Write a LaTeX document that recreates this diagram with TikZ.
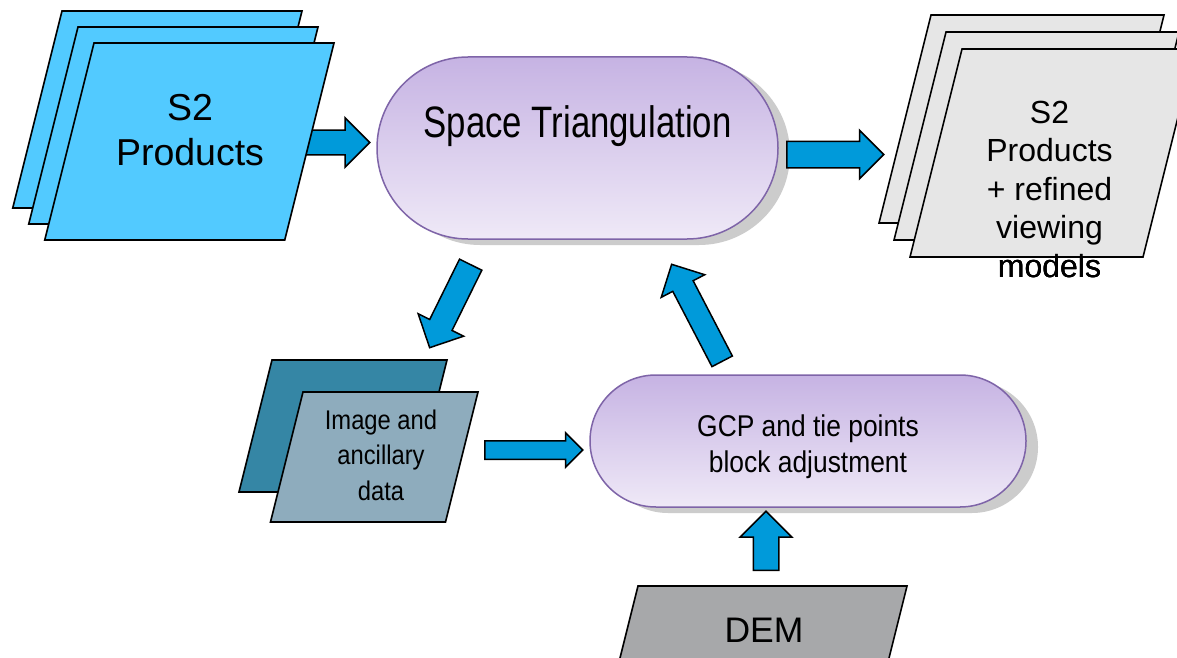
\documentclass[tikz,border=0pt]{standalone}
\usepackage{fontspec}
\setmainfont{Liberation Sans}
\newfontfamily\narrowsf[FakeStretch=0.79]{Liberation Sans}
\newfontfamily\condsf[FakeStretch=0.88]{Liberation Sans}
\usetikzlibrary{shapes.misc,shapes.arrows,shadows}

\definecolor{prodblue}{HTML}{52CAFF}
\definecolor{arrowblue}{HTML}{009ADA}
\definecolor{procborder}{HTML}{7E64A8}
\definecolor{proctop}{HTML}{C6B3E3}
\definecolor{procbottom}{HTML}{EFE9F7}
\definecolor{outgray}{HTML}{E6E6E6}
\definecolor{auxteal}{HTML}{3586A5}
\definecolor{auxgray}{HTML}{8EACBD}
\definecolor{demgray}{HTML}{A7A8AA}

\tikzset{
  process/.style={rounded rectangle,draw=procborder,line width=1.5pt,
    top color=proctop,bottom color=procbottom,inner sep=0pt,
    drop shadow={shadow xshift=12pt,shadow yshift=-6pt,fill=black!20,opacity=1}},
  blockarrow/.style={single arrow,draw=black,line width=1.5pt,fill=arrowblue,
    inner xsep=0pt,single arrow head indent=0pt,anchor=tail},
  sheet/.style={draw=black,line width=1.6pt},
}

% fill, top left x, top left y, width, height
\newcommand\sheet[5]{%
  \draw[sheet,fill=#1] (#2,#3) -- ++(#4,0) -- ++({-0.25*#5},#5) -- ++(-#4,0) -- cycle;}

\begin{document}
\begin{tikzpicture}[x=1pt,y=-1pt]
  \useasboundingbox (0,0) rectangle (1177,658);
  \clip (0,0) rectangle (1177,658);
  \fill[white] (0,0) rectangle (1177,658);

  % input products
  \node[blockarrow,minimum height=69pt,inner ysep=11.5pt,single arrow head extend=12.5pt]
    (arrin) at (300,142.5) {};
  \foreach \dx in {0,16,32}
    \sheet{prodblue}{62+\dx}{11+\dx}{240}{197}
  \node[font=\fontsize{37.5}{45}\selectfont,align=center] (inprod) at (190,130) {S2\\Products};

  % processing steps
  \node[process,minimum width=401pt,minimum height=182pt] (st) at (577.5,148) {};
  \node[font=\narrowsf\fontsize{44}{50}\selectfont,anchor=base] (sttext) at (577.5,137) {Space Triangulation};

  \node[process,minimum width=436pt,minimum height=132pt] (gcp) at (808,441) {};
  \node[font=\condsf\fontsize{30}{36}\selectfont,align=center] (gcptext) at (808,447)
    {GCP and tie points\\block adjustment};

  % output products
  \foreach \dx/\dy in {0/0,15/17,31/34}
    \sheet{outgray}{931+\dx}{15+\dy}{233}{208}
  \node[font=\fontsize{32}{38.5}\selectfont,align=center] (outprod) at (1049.5,189)
    {S2\\Products\\+ refined\\viewing\\models};

  % auxiliary inputs
  \sheet{auxteal}{272}{360}{175}{132}
  \sheet{auxgray}{303}{392}{175}{130}
  \node[font=\condsf\fontsize{27}{35.5}\selectfont,align=center] (auxtext) at (381,455)
    {Image and\\ancillary\\data};

  \sheet{demgray}{638}{586}{269}{100}
  \node[font=\fontsize{35.5}{40}\selectfont,anchor=base] (demtext) at (764,642) {DEM};

  \foreach \name/\x/\y/\ang/\alen/\ashaft/\aext in {
      arrout/786/154.5/0/97/12.5/11,
      arrdown/471/264/-116.3/92.6/11.7/12.9,
      arrdata/484/450/0/98/8.5/8,
      arrdem/766/571/90/59/12/13,
      arrup/722.5/362/117.5/109.4/10.75/13}
    \node[blockarrow,rotate=\ang,minimum height=\alen pt,inner ysep=\ashaft pt,
      single arrow head extend=\aext pt] (\name) at (\x,\y) {};

\end{tikzpicture}
\end{document}
